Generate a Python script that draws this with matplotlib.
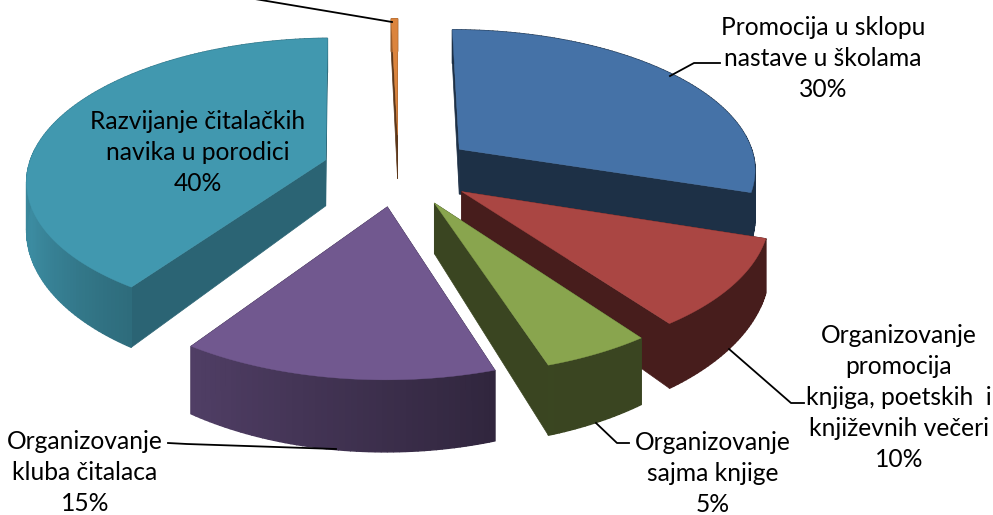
import numpy as np
import matplotlib
matplotlib.use("Agg")
import matplotlib.pyplot as plt

plt.rcParams['font.family'] = ['Lato', 'DejaVu Sans']

# shares, clockwise from 12 o'clock
names = ["Promocija u sklopu\nnastave u školama",
         "Organizovanje\npromocija\nknjiga, poetskih  i\nknjiževnih večeri",
         "Organizovanje\nsajma knjige",
         "Organizovanje\nkluba čitalaca",
         "Razvijanje čitalačkih\nnavika u porodici",
         ""]
shares = [30, 10, 5, 14.5, 40.1, 0.4]
shown = ["30%", "10%", "5%", "15%", "40%", ""]
colors = ["#4572A7", "#AA4643", "#89A54E", "#71588F", "#4198AF", "#DB843D"]

# projection of the tilted pie onto the pixel canvas
cx, cy = 398.5, 170
rx, ry = 298, 140
persp = 0.13
explode = 0.257
depth = 47


def project(u, v):
    s = 1 / (1 + persp * v)
    return cx + rx * u * s, cy - ry * v * s, depth * s ** 2.4


def side_shade(a):
    # lighting on the outer wall by angle (deg clockwise from top)
    return np.interp(a, [0, 160, 216, 250, 300, 360], [0.42, 0.42, 0.72, 0.92, 0.8, 0.7])


def darken(col, f):
    return tuple(c * f for c in matplotlib.colors.to_rgb(col))


fig = plt.figure(figsize=(9.93, 5.15), dpi=100)
ax = fig.add_axes([0, 0, 1, 1])
ax.set_xlim(0, 993)
ax.set_ylim(515, 0)
ax.axis("off")

edges = np.concatenate([[0], np.cumsum(shares)]) / np.sum(shares) * 360
draw_order = [5, 4, 0, 1, 2, 3]

for n, i in enumerate(draw_order):
    a0, a1 = edges[i], edges[i + 1]
    mid = np.radians((a0 + a1) / 2)
    ou, ov = explode * np.sin(mid), explode * np.cos(mid)
    ang = np.linspace(a0, a1, max(int(a1 - a0) + 2, 3))
    th = np.radians(ang)
    X, Y, D = project(ou + np.sin(th), ov + np.cos(th))
    Xa, Ya, Da = project(ou, ov)

    # radial walls first, then outer wall, then the top hides the rest
    face = darken(colors[i], 0.66 if i == 4 else 0.42)
    for k in [0, -1]:
        ax.fill([Xa, X[k], X[k], Xa], [Ya, Y[k], Y[k] + D[k], Ya + Da],
                color=face, lw=0.5, zorder=n)
    for k in range(len(ang) - 1):
        ax.fill([X[k], X[k + 1], X[k + 1], X[k]],
                [Y[k], Y[k + 1], Y[k + 1] + D[k + 1], Y[k] + D[k]],
                color=darken(colors[i], side_shade(ang[k])), lw=1, zorder=n)
    ax.fill(np.r_[Xa, X], np.r_[Ya, Y], color=colors[i], lw=0.3, zorder=n)

# leader lines
leaders = [([670, 694, 720], [76, 63, 63]),
           ([729, 791, 804], [349, 403, 403]),
           ([596, 617, 629], [423, 443, 443]),
           ([336, 187, 168], [449, 444, 443]),
           ([392, 249], [22, -2])]
for lx, ly in leaders:
    ax.plot(lx, ly, color="black", lw=1.3, zorder=20)

# labels
label_pos = [(823, 16), (899, 324), (713, 431), (85, 430), (198, 110)]
for i, (x, y) in enumerate(label_pos):
    ax.text(x, y, names[i] + "\n" + shown[i], ha="center", va="top", fontsize=17.7,
            linespacing=1.42, color="black", zorder=30)

fig.savefig("out.png", dpi=100)
